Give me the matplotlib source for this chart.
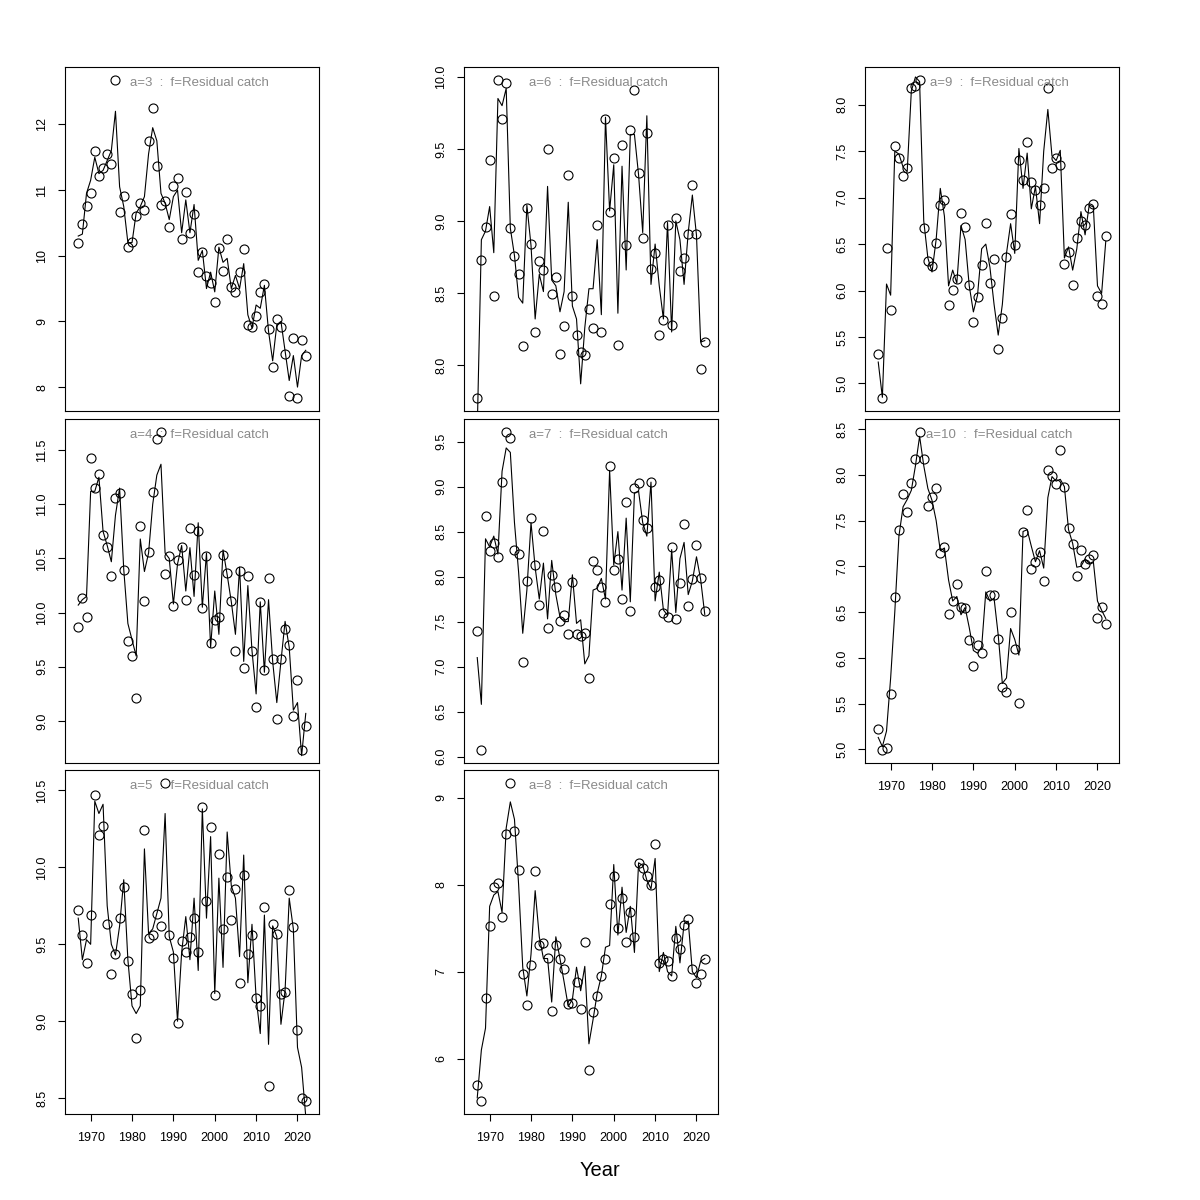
import matplotlib.pyplot as plt
import numpy as np

plt.rcParams['font.family'] = ['Liberation Sans', 'DejaVu Sans']

years = np.arange(1967, 2023)

# observed points (circles) and fitted line per age
obs_a3 = [10.20, 10.49, 10.76, 10.96, 11.59, 11.21, 11.34, 11.55, 11.39, 12.68,
          10.66, 10.91, 10.13, 10.21, 10.61, 10.81, 10.69, 11.74, 12.25, 11.36,
          10.78, 10.83, 10.44, 11.06, 11.18, 10.26, 10.97, 10.34, 10.63, 9.75,
          10.06, 9.69, 9.59, 9.30, 10.12, 9.77, 10.25, 9.52, 9.45, 9.75,
          10.11, 8.94, 8.91, 9.08, 9.45, 9.57, 8.89, 8.31, 9.03, 8.91,
          8.51, 7.86, 8.74, 7.83, 8.72, 8.47]
fit_a3 = [10.30, 10.33, 10.95, 11.15, 11.50, 11.25, 11.30, 11.45, 11.60, 12.20,
          11.05, 10.75, 10.20, 10.20, 10.65, 10.75, 10.90, 11.55, 11.95, 11.75,
          10.95, 10.80, 10.55, 10.90, 11.00, 10.35, 10.85, 10.35, 10.78, 9.93,
          10.08, 9.50, 9.75, 9.45, 10.13, 9.90, 9.96, 9.50, 9.70, 9.50,
          9.88, 9.10, 8.90, 9.25, 9.20, 9.55, 8.85, 8.40, 8.95, 9.00,
          8.55, 8.10, 8.48, 8.00, 8.48, 8.56]

obs_a4 = [9.87, 10.14, 9.96, 11.43, 11.15, 11.28, 10.72, 10.61, 10.34, 11.06,
          11.10, 10.39, 9.74, 9.60, 9.21, 10.80, 10.11, 10.56, 11.11, 11.60,
          11.67, 10.36, 10.52, 10.06, 10.49, 10.61, 10.12, 10.78, 10.35, 10.75,
          10.04, 10.52, 9.72, 9.93, 9.96, 10.53, 10.37, 10.11, 9.65, 10.38,
          9.49, 10.34, 9.65, 9.13, 10.10, 9.47, 10.32, 9.57, 9.02, 9.57,
          9.85, 9.70, 9.05, 9.38, 8.73, 8.95]
fit_a4 = [10.07, 10.12, 10.15, 11.12, 11.12, 11.25, 10.75, 10.62, 10.47, 10.90,
          11.15, 10.40, 9.90, 9.75, 9.60, 10.68, 10.38, 10.55, 11.00, 11.27,
          11.37, 10.55, 10.50, 10.08, 10.45, 10.62, 10.20, 10.60, 10.15, 10.83,
          10.05, 10.55, 9.68, 10.20, 9.80, 10.58, 10.35, 10.10, 9.80, 10.42,
          9.55, 10.25, 9.65, 9.25, 10.10, 9.45, 10.12, 9.55, 9.17, 9.55,
          9.92, 9.68, 9.10, 9.17, 8.68, 9.07]

obs_a5 = [9.72, 9.56, 9.38, 9.69, 10.47, 10.21, 10.27, 9.63, 9.31, 9.44,
          9.67, 9.87, 9.39, 9.18, 8.89, 9.20, 10.24, 9.54, 9.56, 9.70,
          9.62, 10.55, 9.56, 9.41, 8.99, 9.52, 9.45, 9.55, 9.67, 9.45,
          10.39, 9.78, 10.26, 9.17, 10.09, 9.60, 9.94, 9.66, 9.86, 9.25,
          9.95, 9.44, 9.56, 9.15, 9.10, 9.74, 8.58, 9.63, 9.57, 9.18,
          9.19, 9.85, 9.61, 8.94, 8.50, 8.48]
fit_a5 = [9.67, 9.40, 9.53, 9.50, 10.43, 10.35, 10.41, 9.75, 9.50, 9.43,
          9.62, 9.92, 9.40, 9.10, 9.05, 9.10, 10.12, 9.57, 9.60, 9.70,
          9.80, 10.35, 9.55, 9.45, 9.00, 9.45, 9.68, 9.40, 9.80, 9.33,
          10.38, 9.67, 10.20, 9.18, 9.93, 9.35, 10.23, 9.88, 9.80, 9.42,
          10.08, 9.25, 9.63, 9.15, 8.92, 9.69, 8.85, 9.62, 9.55, 8.98,
          9.20, 9.80, 9.60, 8.83, 8.70, 8.38]

obs_a6 = [7.77, 8.73, 8.96, 9.42, 8.48, 9.98, 9.71, 9.96, 8.95, 8.76,
          8.63, 8.13, 9.09, 8.84, 8.23, 8.72, 8.66, 9.50, 8.49, 8.61,
          8.08, 8.27, 9.32, 8.48, 8.21, 8.09, 8.07, 8.39, 8.26, 8.97,
          8.23, 9.71, 9.06, 9.44, 8.14, 9.53, 8.83, 9.63, 9.91, 9.33,
          8.88, 9.61, 8.67, 8.78, 8.21, 8.31, 8.97, 8.28, 9.02, 8.65,
          8.74, 8.91, 9.25, 8.91, 7.97, 8.16]
fit_a6 = [7.55, 8.87, 8.93, 9.10, 8.78, 9.85, 9.80, 9.92, 8.95, 8.76,
          8.47, 8.43, 9.11, 8.83, 8.32, 8.63, 8.51, 9.24, 8.59, 8.55,
          8.37, 8.51, 9.13, 8.41, 8.32, 7.87, 8.26, 8.53, 8.53, 8.87,
          8.35, 9.72, 9.07, 9.39, 8.36, 9.38, 8.66, 9.60, 9.60, 9.32,
          8.92, 9.73, 8.56, 8.84, 8.55, 8.32, 8.99, 8.23, 9.00, 8.87,
          8.56, 8.92, 9.18, 8.90, 8.16, 8.17]

obs_a7 = [7.39, 6.07, 8.67, 8.28, 8.37, 8.22, 9.05, 9.61, 9.54, 8.30,
          8.25, 7.05, 7.95, 8.65, 8.13, 7.68, 8.51, 7.43, 8.02, 7.88,
          7.51, 7.57, 7.36, 7.94, 7.36, 7.34, 7.37, 6.87, 8.17, 8.07,
          7.89, 7.72, 9.23, 8.07, 8.20, 7.75, 8.83, 7.62, 8.98, 9.04,
          8.63, 8.54, 9.05, 7.89, 7.96, 7.59, 7.55, 8.33, 7.53, 7.93,
          8.59, 7.67, 7.97, 8.35, 7.98, 7.62]
fit_a7 = [7.10, 6.58, 8.42, 8.33, 8.45, 8.25, 9.17, 9.43, 9.38, 8.60,
          8.05, 7.37, 7.85, 8.60, 8.10, 7.75, 8.15, 7.53, 8.18, 7.80,
          7.55, 7.50, 7.50, 8.02, 7.48, 7.52, 7.03, 7.12, 7.85, 7.87,
          7.98, 7.75, 9.18, 8.13, 8.50, 7.85, 8.65, 7.72, 8.93, 8.95,
          8.60, 8.45, 9.05, 7.73, 8.05, 7.63, 7.57, 8.30, 7.60, 8.20,
          8.38, 7.80, 7.95, 8.22, 7.97, 7.58]

obs_a8 = [5.70, 5.51, 6.70, 7.52, 7.97, 8.02, 7.63, 8.58, 9.17, 8.61,
          8.17, 6.97, 6.62, 7.07, 8.16, 7.31, 7.33, 7.16, 6.55, 7.31,
          7.15, 7.03, 6.63, 6.64, 6.88, 6.57, 7.34, 5.87, 6.53, 6.72,
          6.95, 7.15, 7.78, 8.10, 7.50, 7.84, 7.34, 7.68, 7.40, 8.25,
          8.19, 8.10, 8.00, 8.47, 7.10, 7.14, 7.12, 6.95, 7.39, 7.26,
          7.53, 7.61, 7.03, 6.87, 6.97, 7.14]
fit_a8 = [5.55, 6.10, 6.35, 7.75, 7.88, 7.92, 7.68, 8.65, 8.95, 8.75,
          8.00, 7.05, 6.72, 7.20, 7.93, 7.40, 7.15, 7.15, 6.65, 7.40,
          7.15, 6.88, 6.60, 6.68, 7.05, 6.78, 7.06, 6.17, 6.45, 6.75,
          6.95, 7.28, 7.30, 8.23, 7.42, 7.97, 7.45, 7.75, 7.22, 8.25,
          8.22, 8.05, 7.95, 8.30, 7.00, 7.22, 7.00, 6.95, 7.52, 7.10,
          7.55, 7.58, 7.00, 6.93, 7.12, 7.15]

obs_a9 = [5.32, 4.84, 6.46, 5.79, 7.56, 7.43, 7.23, 7.32, 8.18, 8.20,
          8.27, 6.67, 6.32, 6.26, 6.51, 6.92, 6.97, 5.84, 6.01, 6.12,
          6.84, 6.68, 6.06, 5.66, 5.93, 6.27, 6.73, 6.08, 6.34, 5.37,
          5.70, 6.36, 6.82, 6.49, 7.41, 7.19, 7.60, 7.17, 7.08, 6.92,
          7.10, 8.18, 7.32, 7.43, 7.35, 6.29, 6.42, 6.06, 6.57, 6.75,
          6.71, 6.89, 6.93, 5.94, 5.85, 6.59]
fit_a9 = [5.23, 4.85, 6.07, 5.95, 7.50, 7.47, 7.33, 7.28, 8.15, 8.30,
          8.25, 6.75, 6.35, 6.20, 6.55, 7.10, 6.80, 6.05, 6.22, 6.08,
          6.70, 6.55, 6.05, 5.77, 5.95, 6.45, 6.50, 6.25, 5.85, 5.52,
          5.85, 6.40, 6.72, 6.40, 7.53, 7.10, 7.48, 6.88, 7.12, 6.72,
          7.50, 7.95, 7.45, 7.40, 7.51, 6.35, 6.47, 6.22, 6.45, 6.85,
          6.60, 6.92, 6.90, 6.05, 5.97, 6.53]

obs_a10 = [5.22, 4.99, 5.02, 5.60, 6.66, 7.40, 7.79, 7.59, 7.91, 8.17,
           8.47, 8.17, 7.66, 7.76, 7.85, 7.15, 7.21, 6.48, 6.62, 6.81,
           6.56, 6.54, 6.20, 5.91, 6.14, 6.05, 6.95, 6.69, 6.69, 6.21,
           5.68, 5.63, 6.50, 6.10, 5.51, 7.37, 7.62, 6.97, 7.05, 7.16,
           6.84, 8.05, 7.99, 7.90, 8.27, 7.87, 7.42, 7.24, 6.89, 7.18,
           7.02, 7.08, 7.12, 6.44, 6.55, 6.37]
fit_a10 = [5.13, 5.03, 5.20, 5.78, 6.50, 7.33, 7.65, 7.73, 7.83, 8.10,
           8.42, 8.10, 7.85, 7.72, 7.50, 7.17, 7.20, 6.85, 6.62, 6.67,
           6.47, 6.55, 6.33, 6.08, 6.05, 6.12, 6.72, 6.62, 6.65, 6.25,
           5.72, 5.78, 6.32, 6.20, 6.03, 7.38, 7.40, 7.22, 7.05, 7.17,
           6.98, 7.75, 7.98, 7.93, 7.95, 7.87, 7.40, 7.25, 6.99, 7.00,
           7.08, 7.03, 7.05, 6.62, 6.52, 6.43]

# y tick values per panel
ticks_a3 = [8, 9, 10, 11, 12]
ticks_a4 = [9.0, 9.5, 10.0, 10.5, 11.0, 11.5]
ticks_a5 = [8.5, 9.0, 9.5, 10.0, 10.5]
ticks_a6 = [8.0, 8.5, 9.0, 9.5, 10.0]
ticks_a7 = [6.0, 6.5, 7.0, 7.5, 8.0, 8.5, 9.0, 9.5]
ticks_a8 = [6, 7, 8, 9]
ticks_a9 = [5.0, 5.5, 6.0, 6.5, 7.0, 7.5, 8.0]
ticks_a10 = [5.0, 5.5, 6.0, 6.5, 7.0, 7.5, 8.0, 8.5]
year_ticks = [1970, 1980, 1990, 2000, 2010, 2020]

# name, obs, fit, yticks, column, row, show x axis
panels = [
    ("a=3", obs_a3, fit_a3, ticks_a3, 0, 0, False),
    ("a=4", obs_a4, fit_a4, ticks_a4, 0, 1, False),
    ("a=5", obs_a5, fit_a5, ticks_a5, 0, 2, True),
    ("a=6", obs_a6, fit_a6, ticks_a6, 1, 0, False),
    ("a=7", obs_a7, fit_a7, ticks_a7, 1, 1, False),
    ("a=8", obs_a8, fit_a8, ticks_a8, 1, 2, True),
    ("a=9", obs_a9, fit_a9, ticks_a9, 2, 0, False),
    ("a=10", obs_a10, fit_a10, ticks_a10, 2, 1, True),
]

W = 1200.0
col_left = [65, 464, 865]
row_top = [67, 419, 770]
pw, ph = 254, 344

fig = plt.figure(figsize=(12, 12), dpi=100)

for name, obs, fit, ticks, col, row, xaxis in panels:
    l = col_left[col]
    t = row_top[row]
    ax = fig.add_axes([l / W, 1 - (t + ph) / W, pw / W, ph / W])
    ax.plot(years, obs, 'o', mfc='none', mec='black', ms=6.5, mew=0.8)
    ax.plot(years, fit, '-', color='black', lw=0.8)
    lo, hi = min(obs), max(obs)
    r = hi - lo
    ax.set_ylim(lo - 0.04 * r, hi + 0.04 * r)
    ax.set_xlim(1963.8, 2025.2)
    ax.set_yticks(ticks)
    if isinstance(ticks[0], int):
        labs = ["%d" % v for v in ticks]
    else:
        labs = ["%.1f" % v for v in ticks]
    ax.set_yticklabels(labs, rotation=90, va='center')
    if xaxis:
        ax.set_xticks(year_ticks)
        ax.set_xticklabels([str(y) for y in year_ticks])
    else:
        ax.set_xticks([])
    ax.tick_params(direction='out', length=5, width=0.8, labelsize=9, pad=7)
    ax.tick_params(axis='x', pad=8)
    for s in ax.spines.values():
        s.set_linewidth(0.8)
    ax.text(0.53, 0.953, name + "  :  f=Residual catch", transform=ax.transAxes,
            ha='center', va='center', color='#8a8a8a', fontsize=9.5)

fig.text(600 / W, 1 - 1171 / W, "Year", ha='center', va='center', fontsize=14.5)

fig.savefig("out.png", dpi=100)
